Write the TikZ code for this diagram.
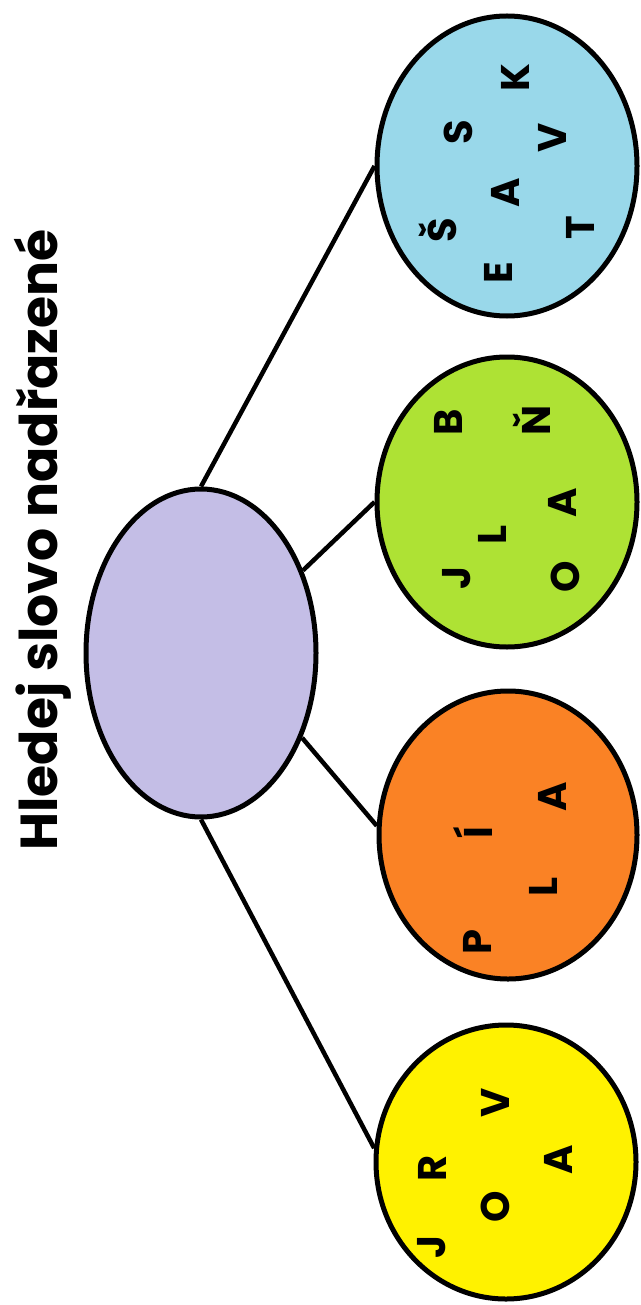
\documentclass[tikz,border=0pt]{standalone}
\usepackage{fontspec}
\setmainfont{Poppins}
\usetikzlibrary{shapes.geometric}
\definecolor{cyel}{HTML}{FFF200}
\definecolor{cora}{HTML}{FA8225}
\definecolor{cgre}{HTML}{AEE234}
\definecolor{cblu}{HTML}{99D8EA}
\definecolor{cpur}{HTML}{C4BEE6}
\begin{document}
\begin{tikzpicture}[x=1pt,y=-1pt,
  bub/.style={ellipse, draw=black, line width=5pt, inner sep=0pt},
  lnk/.style={line width=4.5pt, black},
  let/.style={font=\bfseries\fontsize{40}{40}\selectfont, rotate=90, inner sep=0pt},
  ttl/.style={font=\bfseries\fontsize{52}{52}\selectfont, rotate=90, inner sep=0pt}]
\useasboundingbox[fill=white] (0,0) rectangle (640,1305);
\node[ttl] (title) at (43,540) {Hledej slovo nadřazené};
\node[bub, fill=cpur, minimum width=230, minimum height=328] (p) at (201,653) {};
\node[bub, fill=cblu, minimum width=260, minimum height=300] (b) at (507,166) {};
\node[bub, fill=cgre, minimum width=260, minimum height=290] (g) at (507,502) {};
\node[bub, fill=cora, minimum width=258, minimum height=288] (o) at (508,835) {};
\node[bub, fill=cyel, minimum width=260, minimum height=274] (y) at (506,1162) {};
\draw[lnk] (p.north) -- (b.west);
\draw[lnk] (p.39) -- (g.west);
\draw[lnk] (p.-40) -- (o.176);
\draw[lnk] (p.south) -- (y.174);
% blue letters
\node[let] (b1) at (515,78) {K};
\node[let] (b2) at (458,132) {S};
\node[let] (b3) at (552,138) {V};
\node[let] (b4) at (505,193) {A};
\node[let] (b5) at (438,230) {Š};
\node[let] (b6) at (580,228) {T};
\node[let] (b7) at (498,273) {E};
% green letters
\node[let] (g1) at (448,422) {B};
\node[let] (g2) at (532,420) {Ň};
\node[let] (g3) at (457,578) {J};
\node[let] (g4) at (492,535) {L};
\node[let] (g5) at (562,503) {A};
\node[let] (g6) at (565,577) {O};
% orange letters
\node[let] (o1) at (477,942) {P};
\node[let] (o2) at (473,833) {Í};
\node[let] (o3) at (543,887) {L};
\node[let] (o4) at (552,797) {A};
% yellow letters
\node[let] (y1) at (432,1247) {J};
\node[let] (y2) at (432,1168) {R};
\node[let] (y3) at (495,1103) {V};
\node[let] (y4) at (495,1207) {O};
\node[let] (y5) at (558,1160) {A};
\end{tikzpicture}
\end{document}
